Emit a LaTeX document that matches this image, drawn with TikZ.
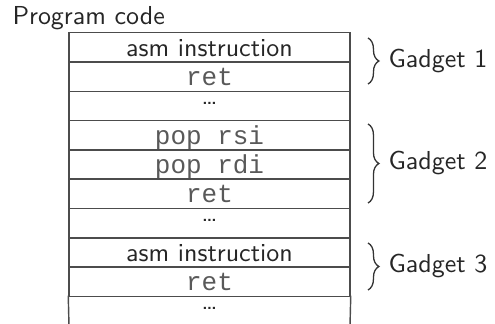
\documentclass[tikz,border=0pt]{standalone}
\usepackage{fontspec}
\setmonofont{Liberation Mono}
\usetikzlibrary{decorations.pathreplacing}
\begin{document}
\begin{tikzpicture}[x=0.385pt,y=-0.385pt,
  every node/.style={text=black!85},
  cell/.style={draw=black!70, line width=0.55pt, inner sep=0pt, minimum width=108.2pt, minimum height=11.28pt,
               text height=8.9pt, text depth=2.1pt, font=\sffamily},
  code/.style={cell, font=\ttfamily, text=black!65},
  opencell/.style={cell, draw=none},
  gbrace/.style={draw=black!80, line width=0.5pt, decoration={brace, amplitude=4.2pt, raise=0pt}, decorate},
  glabel/.style={anchor=west, inner sep=0pt, font=\sffamily},
  side/.style={draw=black!70, line width=0.55pt}]
\useasboundingbox (0,0) rectangle (495,324);
\def\dts{\smash{\raisebox{4pt}{\dots}}}
\node[anchor=base west, inner sep=0pt, font=\sffamily] (title) at (12,25) {Program code};
\node[cell] (c1) at (209.5,47.35) {asm instruction};
\node[code] (c2) at (209.5,76.65) {ret};
\node[cell] (c3) at (209.5,105.95) {\dts};
\node[code] (c4) at (209.5,135.25) {pop rsi};
\node[code] (c5) at (209.5,164.55) {pop rdi};
\node[code] (c6) at (209.5,193.85) {ret};
\node[cell] (c7) at (209.5,223.15) {\dts};
\node[cell] (c8) at (209.5,252.45) {asm instruction};
\node[code] (c9) at (209.5,281.75) {ret};
\node[opencell] (c10) at (209.5,311.05) {\dts};
\coordinate (bl) at (69,326);
\coordinate (br) at (350,326);
\draw[side] (c10.north west) -- (bl);
\draw[side] (c10.north east) -- (br);
\coordinate (b1t) at (368,38); \coordinate (b1b) at (368,84);
\coordinate (b2t) at (368,124); \coordinate (b2b) at (368,203);
\coordinate (b3t) at (368,243); \coordinate (b3b) at (368,290);
\draw[gbrace] (b1t) -- (b1b);
\draw[gbrace] (b2t) -- (b2b);
\draw[gbrace] (b3t) -- (b3b);
\node[glabel] (g1) at (388,61) {Gadget 1};
\node[glabel] (g2) at (388,163.5) {Gadget 2};
\node[glabel] (g3) at (388,266.5) {Gadget 3};
\end{tikzpicture}
\end{document}
